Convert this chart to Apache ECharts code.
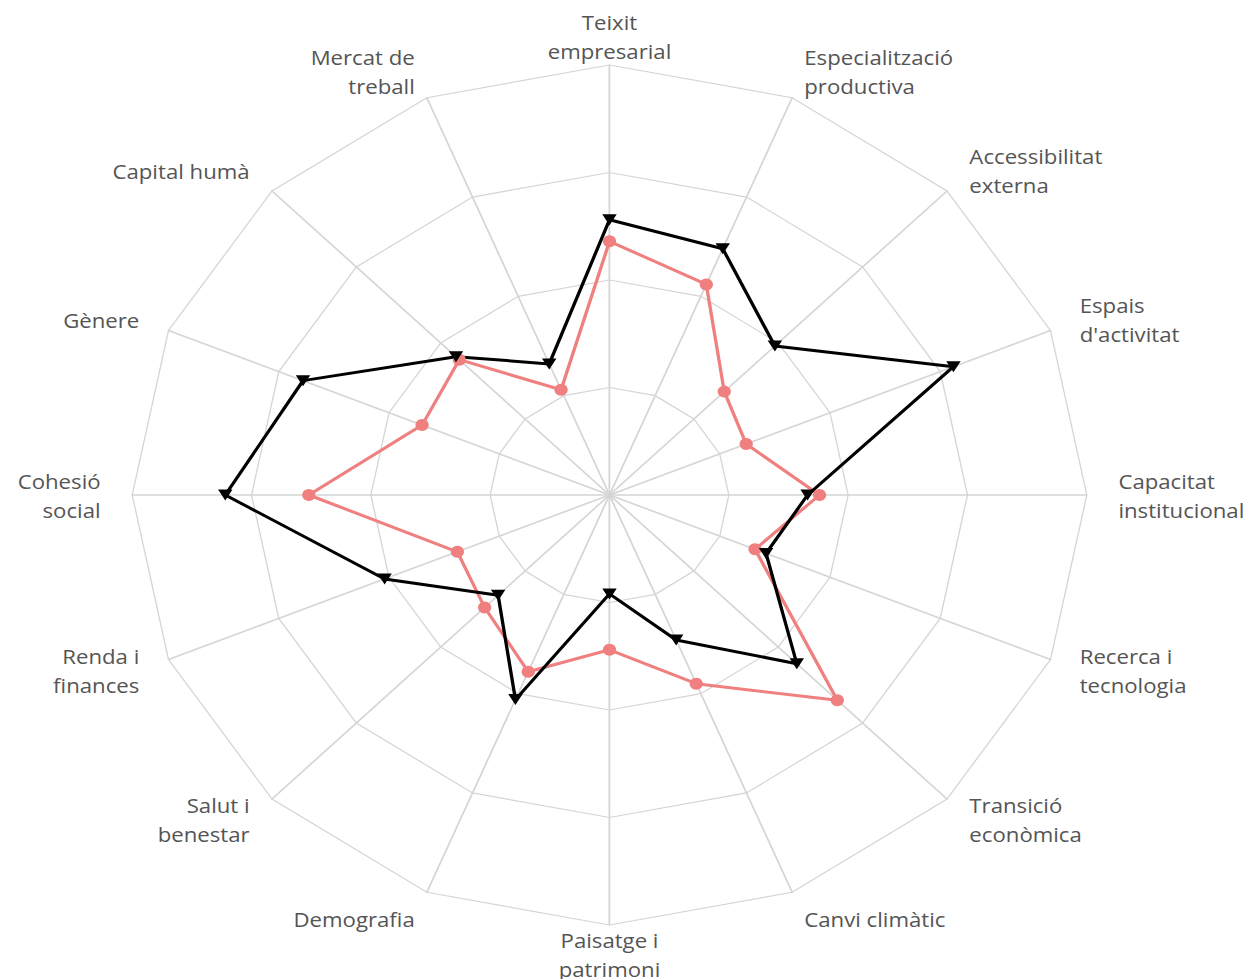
<!DOCTYPE html>
<html>
<head>
<meta charset="utf-8">
<script src="https://cdn.jsdelivr.net/npm/echarts@6/dist/echarts.min.js"></script>
<style>
html, body { margin: 0; padding: 0; background: #ffffff; overflow: hidden; }
#wrap { position: absolute; left: 0; top: 0; width: 1252px; height: 979px; overflow: hidden; }
#chart { position: absolute; left: 0; top: 0; width: 1128px; height: 979px; transform: scaleX(1.11); transform-origin: 0 0; }
</style>
</head>
<body>
<div id="wrap"><div id="chart"></div></div>
<script>
// Indicators in clockwise order, starting at the top
const labels = [
  'Teixit\nempresarial',
  'Especialització\nproductiva',
  'Accessibilitat\nexterna',
  "Espais\nd'activitat",
  'Capacitat\ninstitucional',
  'Recerca i\ntecnologia',
  'Transició\neconòmica',
  'Canvi climàtic',
  'Paisatge i\npatrimoni',
  'Demografia',
  'Salut i\nbenestar',
  'Renda i\nfinances',
  'Cohesió\nsocial',
  'Gènere',
  'Capital humà',
  'Mercat de\ntreball'
];
const maxValue = 100;
// red series (circles)
const seriesRed = [59, 53, 34, 31, 44, 33, 67.5, 47.5, 36, 44.5, 37, 34.5, 63, 42.5, 44.5, 26.5];
// black series (down triangles)
const seriesBlack = [64, 62, 49, 78, 41.5, 35.5, 55.5, 36.5, 23, 51.5, 33, 51, 80.5, 69.5, 45.5, 33];

// ECharts lays indicators out counter-clockwise: reorder so the picture reads clockwise
const order = [0].concat(labels.map((_, i) => i).slice(1).reverse());

const FONT = 'Open Sans';
const FS = 20;
const LH = 29;
const TXT = '#555555';
const EXTRA = 28.5; // extra outward offset of side labels

const rich = {};
labels.forEach((name, i) => {
  const th = i * 2 * Math.PI / labels.length;
  const dx = EXTRA * Math.sin(th);
  const dy = -EXTRA * Math.cos(th);
  let pad = [0, 0, 0, 0];
  if (Math.abs(dx) > 0.5) pad = dx > 0 ? [0, 0, 0, Math.abs(dx)] : [0, Math.abs(dx), 0, 0];
  rich['t' + i] = { fontFamily: FONT, fontSize: FS, lineHeight: LH, color: TXT, padding: pad };
  rich['s' + i] = { fontSize: 1, lineHeight: Math.max(1, 2 * Math.abs(dy)) };
});

function nameFormatter(name) {
  const i = labels.indexOf(name);
  const lines = name.split('\n').map(l => '{t' + i + '|' + l + '}');
  if (i === 0 || i === labels.length / 2) return lines.join('\n');
  const th = i * 2 * Math.PI / labels.length;
  const dy = -EXTRA * Math.cos(th);
  if (Math.abs(dy) > 0.5) {
    const sp = '{s' + i + '| }';
    if (dy < 0) lines.push(sp); else lines.unshift(sp);
  }
  return lines.join('\n');
}

const chart = echarts.init(document.getElementById('chart'), null, { renderer: 'svg' });
chart.setOption({
  backgroundColor: '#ffffff',
  animation: false,
  radar: {
    center: [549.1, 495],
    radius: 430,
    startAngle: 90,
    splitNumber: 4,
    shape: 'polygon',
    indicator: order.map(i => ({ name: labels[i], max: maxValue, min: 0 })),
    axisNameGap: 0,
    axisName: {
      color: TXT,
      fontFamily: FONT,
      fontSize: FS,
      lineHeight: LH,
      formatter: nameFormatter,
      rich: rich
    },
    axisLine: { lineStyle: { color: '#d5d5d5', width: 1.6 } },
    splitLine: { lineStyle: { color: '#d5d5d5', width: 1.2 } },
    splitArea: { show: false }
  },
  series: [{
    type: 'radar',
    z: 2,
    data: [
      {
        name: 'Sèrie vermella',
        value: order.map(i => seriesRed[i]),
        symbol: 'circle',
        symbolSize: 12,
        lineStyle: { color: '#F08080', width: 3 },
        itemStyle: { color: '#F08080' }
      },
      {
        name: 'Sèrie negra',
        value: order.map(i => seriesBlack[i]),
        symbol: 'triangle',
        symbolSize: [13, 11],
        symbolRotate: 180,
        lineStyle: { color: '#000000', width: 3 },
        itemStyle: { color: '#000000' }
      }
    ]
  }]
});
</script>
</body>
</html>
